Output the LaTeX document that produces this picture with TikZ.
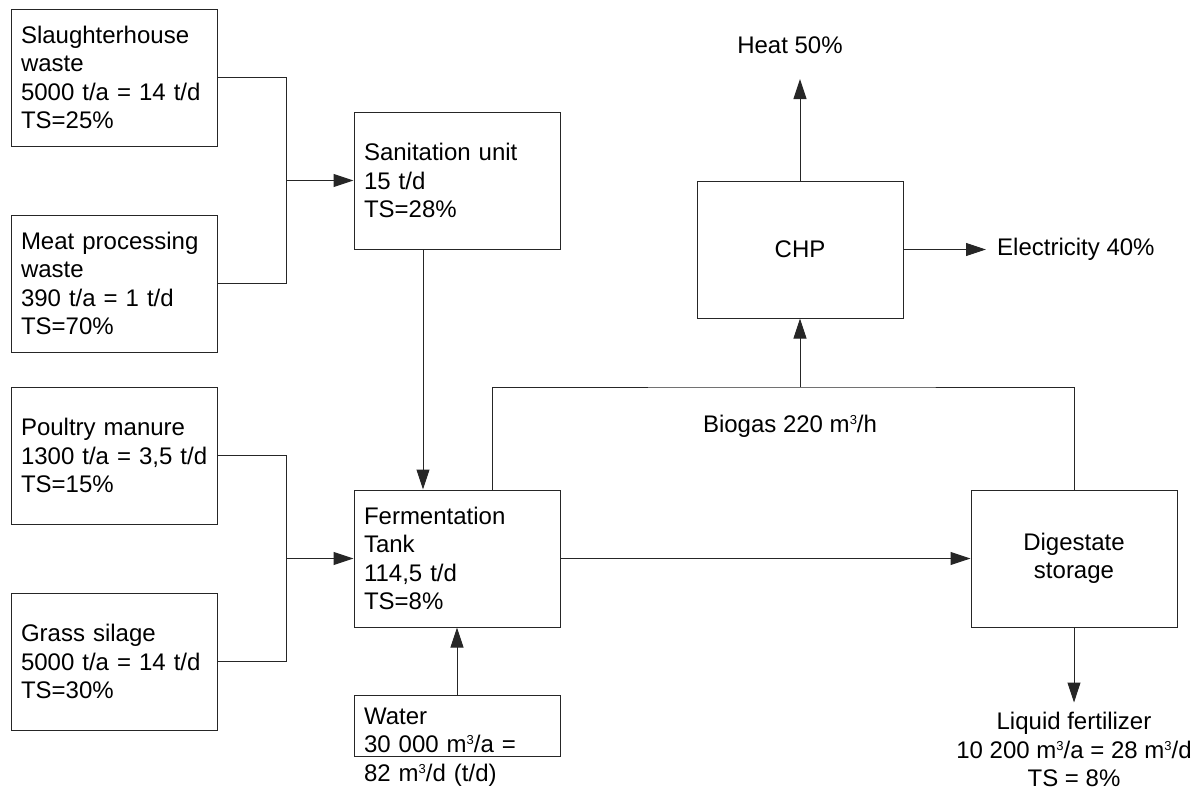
\documentclass[tikz,border=0pt]{standalone}
\usepackage{fontspec}
\setmainfont{Liberation Sans}
\usetikzlibrary{arrows.meta,positioning,calc}

\newcommand{\cubem}{m\raisebox{8pt}{\fontsize{13pt}{13pt}\selectfont 3}}

\begin{document}
\begin{tikzpicture}[
    x=1pt, y=-1pt, % pixel grid, y runs downwards
    >={Triangle[length=20pt,width=13pt]},
    font=\fontsize{24pt}{28.5pt}\selectfont,
    basebox/.style={
        draw=black!85,
        line width=1pt,
        minimum width=206pt,
        minimum height=137pt,
        inner xsep=10pt,
        inner ysep=0pt
    },
    feedbox/.style={
        basebox,
        align=left,
        text width=186pt % 186 + 2*10 = 206
    },
    unitbox/.style={
        basebox,
        align=center
    },
    flowlabel/.style={inner sep=0pt, align=center},
    flowline/.style={draw=black!85, line width=1pt},
    arrow/.style={flowline, ->}
]
\useasboundingbox (0,0) rectangle (1202,796);

% --- NODES ---
% feedstock column
\node[feedbox] (slaughter) at (114,77.5)
{Slaughterhouse\\waste\\5000 t/a = 14 t/d\\TS=25\%};
\node[feedbox, below=68pt of slaughter] (meat)
{Meat processing\\waste\\390 t/a = 1 t/d\\TS=70\%};
\node[feedbox, below=34pt of meat] (poultry)
{Poultry manure\\\mbox{1300 t/a = 3,5 t/d}\\TS=15\%};
\node[feedbox, below=68pt of poultry] (grass)
{Grass silage\\5000 t/a = 14 t/d\\TS=30\%};

% process column
\node[feedbox] (sanit) at (457,180.5)
{Sanitation unit\\15 t/d\\TS=28\%};
\node[feedbox] (ferm) at (457,558.5)
{Fermentation\\Tank\\114,5 t/d\\TS=8\%};
\node[feedbox, below=67pt of ferm, minimum height=0pt, inner ysep=12.5pt, text depth=20pt] (water)
{Water\\30 000 \cubem/a =\\82 \cubem/d (t/d)};

% outputs
\node[unitbox] (chp) at (800,249.5) {CHP};
\node[unitbox, right=410pt of ferm] (digest) {Digestate\\storage};

\node[flowlabel] (heat) at (790,45.5) {Heat 50\%};
\node[flowlabel, anchor=west, inner xsep=11pt] (elec) at (986,249.5) {Electricity 40\%};
\node[flowlabel] (biogas) at (790,426) {Biogas 220 \cubem/h};
\node[flowlabel, below=75pt of digest, inner ysep=9.5pt] (fert)
{Liquid fertilizer\\10 200 \cubem/a = 28 \cubem/d\\TS = 8\%};

% junction points
\coordinate (join1) at (286,180.5);
\coordinate (join2) at (286,558.5);
\coordinate (gasbus) at (800,387);
\coordinate (heattip) at (800,79);

% --- CONNECTIONS ---
\draw[flowline] (slaughter.east) -| (join1);
\draw[flowline] (meat.east) -| (join1);
\draw[arrow] (join1) -- (sanit.west);

\draw[flowline] (poultry.east) -| (join2);
\draw[flowline] (grass.east) -| (join2);
\draw[arrow] (join2) -- (ferm.west);

\draw[arrow] ([xshift=-34pt]sanit.south) -- ([xshift=-34pt]ferm.north);
\draw[arrow] (water) -- (ferm);
\draw[arrow] (ferm) -- (digest);

% biogas collection
\draw[flowline] ([xshift=35pt]ferm.north) |- (gasbus) -| (digest.north);
\draw[arrow] (gasbus) -- (chp);
\draw[arrow] (chp) -- (heattip);
\draw[arrow] (chp) -- (elec);

\draw[arrow] (digest) -- (fert);

\end{tikzpicture}
\end{document}
